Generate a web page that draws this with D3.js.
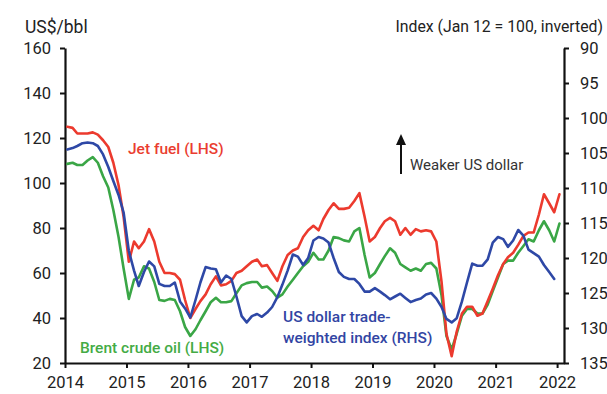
<!DOCTYPE html>
<html>
<head>
<meta charset="utf-8">
<script src="https://cdn.jsdelivr.net/npm/d3@7"></script>
<style>
  html, body { margin: 0; padding: 0; background: #fff; }
  svg { display: block; }
  text { font-family: Roboto, "Noto Sans", sans-serif; }
</style>
</head>
<body>
<svg id="chart" width="607" height="394"></svg>
<script>
// Monthly series from January 2014 (one value per month, plotted mid-month)
const startYear = 2014;

// Jet fuel price, US$/bbl (left axis)
const jetFuel = [
  125, 124.5, 122, 122, 122, 122.5, 121.5, 119, 116, 109, 99, 85,
  65, 74, 71, 74, 79.5, 74, 65, 60, 60, 59.5, 57, 48,
  40, 44, 47.5, 50.5, 55, 58.5, 54.5, 55, 56.5, 60, 61, 63,
  65, 66, 63, 63.5, 60, 56.5, 63, 68, 70, 71, 76, 79,
  81, 79, 84, 88, 91, 88.5, 88.5, 89, 92, 95.5, 85, 74,
  76, 80, 83, 84.5, 83, 77, 80, 77, 79.5, 78.5, 79, 78.5,
  74, 56, 33, 23, 34, 42, 45, 45, 41, 42, 47.5, 53,
  59, 64, 67, 69, 72.5, 76.5, 78, 78, 86, 95, 91, 87,
  95
];

// Brent crude oil price, US$/bbl (left axis)
const brent = [
  108.5, 109, 108, 108, 110, 111.5, 109, 103, 98, 88, 76, 62,
  48.5, 57, 58, 63, 62, 56, 48, 47.6, 48.5, 48, 43, 36,
  32, 35, 39, 43, 47, 49, 47, 47, 47.5, 51, 54.5, 55.5,
  56, 56, 53.5, 54, 52, 49, 50.5, 54, 57, 60, 63, 65,
  69, 66, 66, 70, 76, 75.5, 74.5, 74, 78.5, 80, 68, 58,
  60, 64, 67.5, 71, 69, 64, 62.5, 61, 62, 61, 64, 64.5,
  62, 50, 32, 26, 33, 41, 44, 44, 42, 42, 46, 52,
  58, 64, 65.5, 65.5, 69, 72, 75, 74, 79, 83, 79, 74,
  82
];

// US dollar trade-weighted index, Jan 2012 = 100 (right axis, inverted)
const usdIndex = [
  104.5, 104.3, 104, 103.6, 103.5, 103.6, 104, 105.2, 107, 109, 111, 113.5,
  119, 121.8, 124, 122, 120.5, 121.2, 123.7, 124, 124, 123.5, 126.2, 127.2,
  128.5, 126, 123.5, 121.3, 121.5, 121.6, 123.5, 122.5, 123, 125.5, 128.3, 129.2,
  128.3, 128, 128.4, 127.8, 127, 125.6, 123.8, 121.8, 119.5, 119.8, 121, 120,
  117.5, 117, 117.2, 117.8, 120, 122, 122.7, 123, 123, 123.7, 124.8, 124.8,
  124.3, 124.8, 125.3, 125.9, 125.5, 125.1, 125.7, 126.3, 126, 125.8, 125.2, 125,
  125.8, 127, 128.7, 129.2, 128.6, 126.2, 123.5, 120.8, 121.1, 121.1, 120.2, 117.8,
  117, 117.3, 118.4, 117.5, 116, 116.8, 118.8, 119.3, 119.8, 121, 122, 123
];

const leftTicks = [20, 40, 60, 80, 100, 120, 140, 160];
const rightTicks = [90, 95, 100, 105, 110, 115, 120, 125, 130, 135];
const yearTicks = [2014, 2015, 2016, 2017, 2018, 2019, 2020, 2021, 2022];

const colors = { jet: "#ec3a2e", brent: "#3aa646", usd: "#2e48a6" };

const svg = d3.select("#chart");

const x = d3.scaleTime()
  .domain([new Date(2014, 0, 1), new Date(2022, 1, 11)])
  .range([65, 564]);
const yL = d3.scaleLinear().domain([20, 160]).range([363, 48]);
const yR = d3.scaleLinear().domain([90, 135]).range([48, 363]);

const monthDate = i => new Date(startYear, i, 15);

// Axes
const axisStyle = g => {
  g.selectAll("path.domain").attr("stroke", "#111").attr("stroke-width", 2.2);
  g.selectAll(".tick line").attr("stroke", "#111").attr("stroke-width", 2);
  g.selectAll(".tick text").attr("fill", "#222").style("font-size", "16.5px")
    .style("font-family", "Roboto, 'Noto Sans', sans-serif");
};

svg.append("g")
  .attr("transform", "translate(65,0)")
  .call(d3.axisLeft(yL).tickValues(leftTicks).tickSize(5).tickPadding(9).tickSizeOuter(0))
  .call(axisStyle);

svg.append("g")
  .attr("transform", "translate(564,0)")
  .call(d3.axisRight(yR).tickValues(rightTicks).tickSize(5).tickPadding(11).tickSizeOuter(0))
  .call(axisStyle);

svg.append("g")
  .attr("transform", "translate(0,363)")
  .call(d3.axisBottom(x)
    .tickValues(yearTicks.map(y => new Date(y, 0, 1)))
    .tickFormat(d3.timeFormat("%Y"))
    .tickSize(5).tickPadding(8).tickSizeOuter(0))
  .call(axisStyle);

// Series lines
const lineL = d3.line().x((d, i) => x(monthDate(i))).y(d => yL(d));
const lineR = d3.line().x((d, i) => x(monthDate(i))).y(d => yR(d));

const series = [
  { data: brent, line: lineL, color: colors.brent },
  { data: jetFuel, line: lineL, color: colors.jet },
  { data: usdIndex, line: lineR, color: colors.usd }
];

svg.append("g").selectAll("path")
  .data(series)
  .join("path")
  .attr("d", s => s.line(s.data))
  .attr("fill", "none")
  .attr("stroke", s => s.color)
  .attr("stroke-width", 2.6)
  .attr("stroke-linejoin", "round")
  .attr("stroke-linecap", "round");

// Axis titles
svg.append("text").attr("x", 25).attr("y", 33)
  .attr("fill", "#222").style("font-size", "17.5px").text("US$/bbl");
svg.append("text").attr("x", 603).attr("y", 32).attr("text-anchor", "end")
  .attr("fill", "#222").style("font-size", "15.8px").text("Index (Jan 12 = 100, inverted)");

// Series labels
const label = (txt, lx, ly, color) =>
  svg.append("text").attr("x", lx).attr("y", ly)
    .attr("fill", color).style("font-size", "15.5px").style("font-weight", 500).text(txt);

label("Jet fuel (LHS)", 128, 154, "#ea3d30");
label("Brent crude oil (LHS)", 80, 353, "#44ab45");
label("US dollar trade-", 283, 322, "#3245a3");
label("weighted index (RHS)", 283, 343, "#3245a3");

// Direction note for the inverted right axis
const arrowX = 401;
svg.append("line")
  .attr("x1", arrowX).attr("x2", arrowX)
  .attr("y1", 143).attr("y2", 174)
  .attr("stroke", "#111").attr("stroke-width", 2);
svg.append("path")
  .attr("d", d3.line()([[arrowX - 5, 145], [arrowX, 134], [arrowX + 5, 145]]) + "Z")
  .attr("fill", "#111");
svg.append("text").attr("x", 410).attr("y", 170)
  .attr("fill", "#333").style("font-size", "15px").text("Weaker US dollar");
</script>
</body>
</html>
